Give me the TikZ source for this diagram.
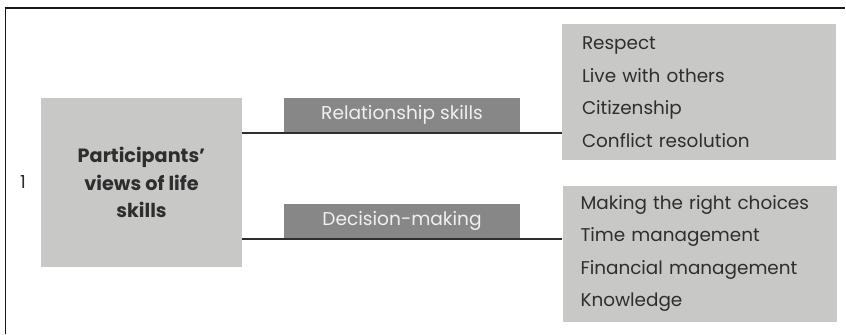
\documentclass[tikz,border=0pt]{standalone}
\usepackage{fontspec}
\setmainfont{Poppins}
\usetikzlibrary{positioning}
\definecolor{boxgray}{HTML}{C8C8C7}
\definecolor{tabgray}{HTML}{878787}
\definecolor{txtgray}{HTML}{2E2E2E}
\tikzset{mainbox/.style={fill=boxgray,minimum width=100.5pt,minimum height=84.5pt,inner sep=0pt,
                         align=center,text=txtgray,font=\bfseries\fontsize{9.6}{13.75}\selectfont},
         tab/.style={fill=tabgray,minimum width=118pt,minimum height=17pt,inner sep=0pt,
                     text=white!94!black,font=\fontsize{9.3}{10}\selectfont},
         listbox/.style={fill=boxgray,minimum height=68pt,inner xsep=10pt,inner ysep=0pt,
                         text width=117pt,align=left,text=txtgray,font=\fontsize{9.2}{16.3}\selectfont},
         link/.style={draw=txtgray,line width=1pt},
         frame/.style={draw=black!90,line width=0.6pt},
        }

\begin{document}
\begin{tikzpicture}[x=0.5pt,y=-0.5pt]
        \useasboundingbox (0,0) rectangle (846,334);
        \draw[frame] (5.5,334) -- (5.5,8) -- (845,8);

        \node[text=txtgray,font=\fontsize{9}{10}\selectfont](num)at(23,182){1};
        \node[mainbox](main)at(141.5,182.5){Participants’\\views of life\\skills};
        \node[tab](rel)at(402,115){Relationship skills};
        \node[tab](dec)at(402,221){Decision-making};
        \node[listbox](rlist)at(699,92){Respect\\Live with others\\Citizenship\\Conflict resolution};
        \node[listbox,inner xsep=9pt,text width=119pt](dlist)at(699.5,253.5){Making the right choices\\Time management\\Financial management\\Knowledge};

        \draw[link]([yshift=-0.5pt]main.east |- rel.south)--([yshift=-0.5pt]rlist.west |- rel.south);
        \draw[link]([yshift=-0.5pt]main.east |- dec.south)--([yshift=-0.5pt]dlist.west |- dec.south);
    \end{tikzpicture}
\end{document}
